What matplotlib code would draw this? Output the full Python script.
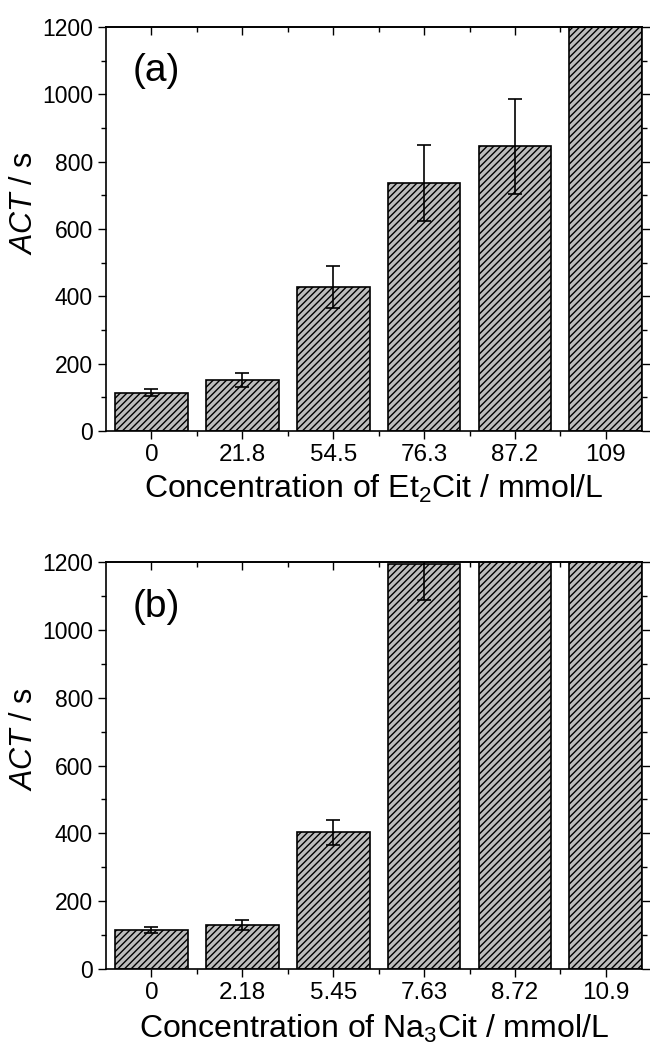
import matplotlib
matplotlib.use("Agg")
import matplotlib.pyplot as plt
import numpy as np

plt.rcParams['font.family'] = ['Liberation Sans', 'DejaVu Sans']
plt.rcParams['mathtext.fontset'] = 'custom'
plt.rcParams['mathtext.rm'] = 'Liberation Sans'
plt.rcParams['mathtext.it'] = 'Liberation Sans:italic'
plt.rcParams['hatch.linewidth'] = 1.0

# panel (a): Et2Cit
conc_a = ['0', '21.8', '54.5', '76.3', '87.2', '109']
act_a = [114, 151, 428, 737, 845, 1200]
err_a = [10, 21, 63, 112, 140, 0]

# panel (b): Na3Cit
conc_b = ['0', '2.18', '5.45', '7.63', '8.72', '10.9']
act_b = [115, 130, 403, 1195, 1200, 1200]
err_b = [10, 15, 37, 107, 0, 0]

fig = plt.figure(figsize=(6.5, 10.46), dpi=100)
ax_a = fig.add_axes([0.163, 0.588, 0.825, 0.3862])
ax_b = fig.add_axes([0.163, 0.0736, 0.825, 0.3891])


def draw(ax, labels, vals, errs, xlabel, tag, xpad):
    x = np.arange(len(labels))
    ax.bar(x, vals, width=0.8, color='#bdbdbd', edgecolor='black',
           linewidth=1.2, hatch='/////', zorder=2)
    ax.errorbar(x, vals, yerr=errs, fmt='none', ecolor='black',
                elinewidth=1.2, capsize=5, capthick=1.2, zorder=3)
    ax.set_xlim(-0.5, 5.4)
    ax.set_ylim(0, 1200)
    ax.set_xticks(x)
    ax.set_xticklabels(labels)
    ax.set_xticks(x[:-1] + 0.5, minor=True)
    ax.set_yticks(np.arange(0, 1201, 200))
    ax.set_yticks(np.arange(100, 1200, 200), minor=True)
    ax.tick_params(axis='both', which='major', length=6, width=1.0,
                   direction='out')
    ax.tick_params(axis='x', which='major', labelsize=17.5)
    ax.tick_params(axis='y', which='major', labelsize=16.5)
    ax.tick_params(axis='both', which='minor', length=3.5, width=1.0,
                   direction='out')
    ax.tick_params(axis='y', which='both', right=True)
    ax.tick_params(axis='x', which='both', top=False)
    # top axis ticks point inward
    top = ax.secondary_xaxis('top')
    top.set_xticks(x)
    top.set_xticks(x[:-1] + 0.5, minor=True)
    top.tick_params(which='major', direction='in', length=6, width=1.0,
                    labeltop=False)
    top.tick_params(which='minor', direction='in', length=3.5, width=1.0)
    for s in ax.spines.values():
        s.set_linewidth(1.2)
    top.spines['top'].set_linewidth(1.2)
    ax.set_xlabel(xlabel, fontsize=23, labelpad=xpad)
    ax.set_ylabel(r'$\mathit{ACT}$ / s', fontsize=22)
    ax.yaxis.set_label_coords(-0.125, 0.565)
    ax.text(0.049, 0.89, tag, transform=ax.transAxes, fontsize=28,
            ha='left', va='center')


draw(ax_a, conc_a, act_a, err_a, r'Concentration of Et$_2$Cit / mmol/L', '(a)', 5)
draw(ax_b, conc_b, act_b, err_b, r'Concentration of Na$_3$Cit / mmol/L', '(b)', 6)

fig.savefig('out.png', dpi=100)
